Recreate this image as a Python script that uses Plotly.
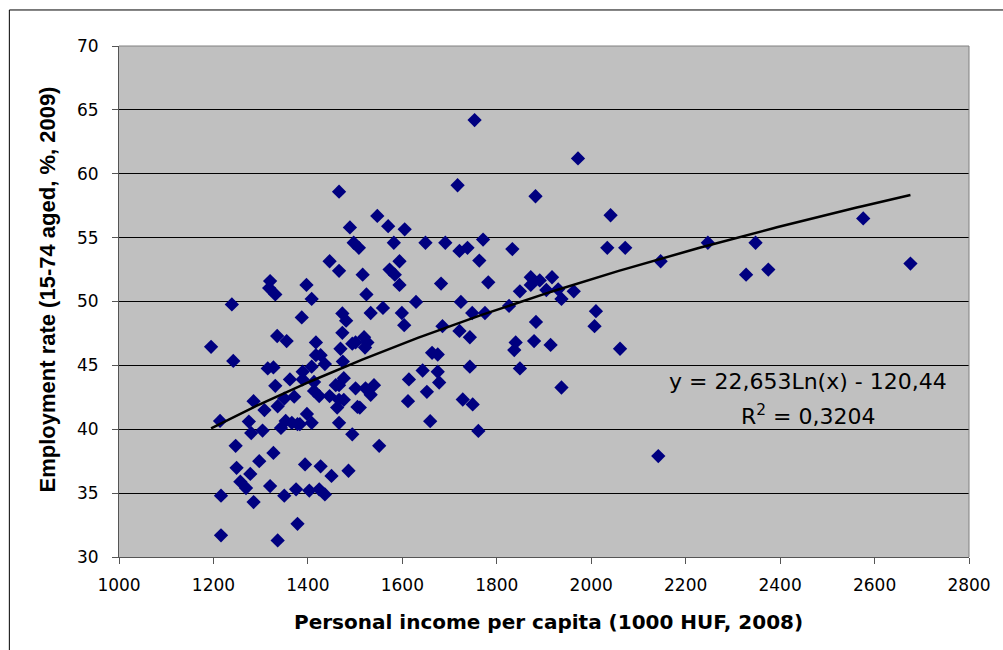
import numpy as np
import plotly.graph_objects as go

income = [
    1466, 1547, 1489, 1570, 1605, 1497, 1508, 1582, 1446, 1466, 1516, 1594, 1573, 1584, 1594,
    1524, 1320, 1318, 1331, 1397, 1408, 1239, 1559,
    1387, 1473, 1481, 1533, 1599, 1604, 1195, 1242, 1335, 1355, 1417, 1473, 1469, 1494, 1501,
    1519, 1526, 1521, 1417, 1427, 1436, 1474, 1315, 1327, 1408, 1389, 1389, 1362, 1331, 1413,
    1413, 1424, 1446, 1459, 1466, 1476, 1466, 1476, 1462, 1501, 1522, 1540, 1533, 1505, 1510,
    1614, 1612, 1285, 1308, 1336, 1371, 1350, 1214, 1275, 1353, 1366, 1378, 1383, 1398, 1408,
    1280, 1304, 1343, 1466, 1494, 1551, 1247, 1327, 1297, 1249, 1278, 1257, 1269, 1394, 1427,
    1450, 1486, 1320, 1350, 1375, 1403, 1424, 1436, 1216, 1285, 1378, 1216, 1336,
    1753, 1972, 1717, 1882, 2041, 1649, 1691, 1721, 1738, 1771, 1833, 2034, 2072, 1763, 2147,
    1682, 1782, 1629, 1724, 1872, 1891, 1872, 1917, 1849, 1905, 1930, 1937, 1963,
    1748, 1775, 1685, 1826, 2010, 2007, 1721, 1743, 1883, 1840, 1837, 1879, 1914, 2061, 1663,
    1675, 1643, 1675, 1678, 1743, 1849, 1652, 1728, 1749, 1937, 1659, 1761, 2142,
    2247, 2348, 2328, 2375, 2576, 2676,
]
employment = [
    58.6, 56.7, 55.8, 55.9, 55.65, 54.6, 54.2, 54.6, 53.15, 52.4, 52.1, 53.15, 52.5, 52.1, 51.3,
    50.55, 51.6, 51.05, 50.55, 51.3, 50.2, 49.77, 49.5,
    48.75, 49.06, 48.5, 49.1, 49.1, 48.15, 46.45, 45.35, 47.3, 46.9, 46.8, 47.55, 46.3, 46.7, 46.8,
    47.2, 46.8, 46.4, 45.8, 45.8, 45.1, 45.3, 44.76, 44.84, 44.9, 44.5, 43.9, 43.9, 43.4, 43.7,
    43.0, 42.6, 42.6, 43.45, 43.45, 44.0, 42.3, 42.3, 41.7, 43.2, 43.2, 43.45, 42.7, 41.75, 41.7,
    43.9, 42.2, 42.2, 41.5, 41.8, 42.55, 42.4, 40.65, 40.6, 40.65, 40.5, 40.4, 40.4, 41.2, 40.5,
    39.7, 39.9, 40.1, 40.5, 39.6, 38.7, 38.7, 38.15, 37.5, 36.98, 36.5, 35.9, 35.4, 37.25, 37.1,
    36.35, 36.75, 35.55, 34.8, 35.3, 35.2, 35.3, 34.9, 34.8, 34.3, 32.6, 31.7, 31.3,
    64.2, 61.2, 59.1, 58.24, 56.75, 54.6, 54.6, 53.96, 54.2, 54.85, 54.1, 54.2, 54.2, 53.2, 53.15,
    51.4, 51.5, 49.97, 49.97, 51.9, 51.65, 51.3, 51.9, 50.8, 50.9, 50.95, 50.2, 50.8,
    49.1, 49.1, 48.07, 49.65, 49.24, 48.07, 47.7, 47.2, 48.4, 46.8, 46.2, 46.9, 46.6, 46.3, 45.98,
    45.85, 44.6, 44.5, 43.66, 44.9, 44.76, 42.93, 42.33, 41.94, 43.27, 40.63, 39.87, 37.9,
    54.6, 54.6, 52.1, 52.5, 56.5, 52.97,
]

trend_a = 22.653
trend_b = -120.44
eq_text = "y = 22,653Ln(x) - 120,44"
r2_text = "R<sup>2</sup> = 0,3204"

x_ticks = [1000, 1200, 1400, 1600, 1800, 2000, 2200, 2400, 2600, 2800]
y_ticks = [30, 35, 40, 45, 50, 55, 60, 65, 70]

x_title = "Personal income per capita (1000 HUF, 2008)"
y_title = "Employment rate (15-74 aged, %, 2009)"

tx = np.linspace(min(income), max(income), 200)
ty = trend_a * np.log(tx) + trend_b

fig = go.Figure()
fig.add_trace(go.Scatter(
    x=income, y=employment, mode="markers",
    marker=dict(symbol="diamond", size=11, color="#000080", line=dict(width=0)),
    showlegend=False, hoverinfo="x+y",
))
fig.add_trace(go.Scatter(
    x=tx, y=ty, mode="lines", line=dict(color="black", width=2.5),
    showlegend=False, hoverinfo="skip",
))

tick_font = dict(family="DejaVu Sans", size=17, color="black")

fig.update_layout(
    width=1003, height=650,
    margin=dict(l=119, r=31, t=46, b=93),
    paper_bgcolor="white",
    plot_bgcolor="#C0C0C0",
    xaxis=dict(
        range=[1000, 2800], tickvals=x_ticks, ticks="outside", ticklen=6,
        tickcolor="#555555", showgrid=False, zeroline=False,
        showline=True, linecolor="#555555", linewidth=1,
        tickfont=tick_font, ticklabelstandoff=7,
    ),
    yaxis=dict(
        range=[30, 70], tickvals=y_ticks, ticks="outside", ticklen=6,
        tickcolor="#555555", showgrid=True, gridcolor="black", gridwidth=1,
        zeroline=False, showline=True, linecolor="#555555", linewidth=1,
        tickfont=tick_font, ticklabelstandoff=10,
    ),
    annotations=[
        dict(x=2460, y=43.76, xref="x", yref="y", text=eq_text, showarrow=False,
             font=dict(family="DejaVu Sans", size=22, color="black"),
             xanchor="center", yanchor="middle"),
        dict(x=2460, y=41.1, xref="x", yref="y", text=r2_text, showarrow=False,
             font=dict(family="DejaVu Sans", size=22, color="black"),
             xanchor="center", yanchor="middle"),
        dict(x=0.505, y=-0.127, xref="paper", yref="paper", text=x_title, showarrow=False,
             font=dict(family="DejaVu Sans", size=20, color="black", weight="bold"),
             xanchor="center", yanchor="middle"),
        dict(x=-0.0844, y=0.524, xref="paper", yref="paper", text=y_title, showarrow=False,
             textangle=-90,
             font=dict(family="Liberation Sans", size=22, color="black", weight="bold"),
             xanchor="center", yanchor="middle"),
    ],
    shapes=[
        dict(type="line", xref="paper", yref="paper", x0=1, x1=1, y0=0, y1=1,
             line=dict(color="#808080", width=1)),
        dict(type="line", xref="paper", yref="paper", x0=0, x1=1, y0=1, y1=1,
             line=dict(color="#808080", width=1)),
        dict(type="line", xref="paper", yref="paper", x0=-0.129, x1=1.2, y0=1.0705, y1=1.0705,
             line=dict(color="black", width=1)),
        dict(type="line", xref="paper", yref="paper", x0=-0.129, x1=-0.129, y0=-0.3, y1=1.0705,
             line=dict(color="black", width=1)),
    ],
)

fig.write_html("out.html", config={"displayModeBar": False},
               post_script="document.body.style.margin='0';")
